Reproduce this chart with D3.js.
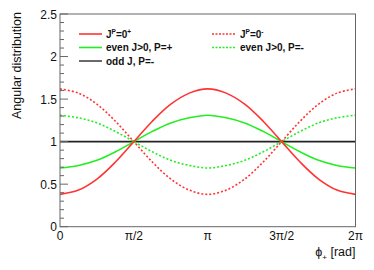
<!DOCTYPE html>
<html><head><meta charset="utf-8">
<script src="https://cdn.jsdelivr.net/npm/d3@7"></script>
<style>body{margin:0;background:#fff}svg{display:block}text{font-family:"Liberation Sans",Arial,sans-serif}</style>
</head><body>
<script>
// phi samples at k*pi/8, k = 0..16
const phiSteps = d3.range(17);
const redSolid  = [0.38,0.43,0.56,0.76,1.00,1.24,1.44,1.57,1.62,1.57,1.44,1.24,1.00,0.76,0.56,0.43,0.38];
const redDashed = [1.62,1.57,1.44,1.24,1.00,0.76,0.56,0.43,0.38,0.43,0.56,0.76,1.00,1.24,1.44,1.57,1.62];
const greenSolid  = [0.69,0.72,0.78,0.88,1.00,1.12,1.22,1.28,1.31,1.28,1.22,1.12,1.00,0.88,0.78,0.72,0.69];
const greenDashed = [1.31,1.28,1.22,1.12,1.00,0.88,0.78,0.72,0.69,0.72,0.78,0.88,1.00,1.12,1.22,1.28,1.31];
const blackSolid  = [1,1,1,1,1,1,1,1,1,1,1,1,1,1,1,1,1];
const xTickLabels = ["0","π/2","π","3π/2","2π"];
const yTicks = [0,0.5,1,1.5,2,2.5];

const W=374,H=270, L=60, R=355.5, T=14, B=226.7;
const svg=d3.select("body").append("svg").attr("width",W).attr("height",H);
const x=d3.scaleLinear().domain([0,2*Math.PI]).range([L,R]);
const y=d3.scaleLinear().domain([0,2.5]).range([B,T]);

const series=[
 {v:blackSolid,c:"#222",d:null},
 {v:greenDashed,c:"#22ee22",d:"2,2"},
 {v:redDashed,c:"#ff3333",d:"2,2"},
 {v:greenSolid,c:"#22ee22",d:null},
 {v:redSolid,c:"#ff3333",d:null}
];
const line=d3.line().x((d,i)=>x(phiSteps[i]*Math.PI/8)).y(d=>y(d)).curve(d3.curveCatmullRom);
svg.selectAll("path.s").data(series).enter().append("path").attr("class","s")
 .attr("d",d=>line(d.v)).attr("fill","none").attr("stroke",d=>d.c)
 .attr("stroke-width",1.6).attr("stroke-dasharray",d=>d.d);

// frame
svg.append("rect").attr("x",L).attr("y",T).attr("width",R-L).attr("height",B-T)
 .attr("fill","none").attr("stroke","#666").attr("stroke-width",1);

// y axis ticks (inside)
const yMinor=d3.range(0,2.5001,0.1);
svg.selectAll("line.ym").data(yMinor).enter().append("line")
 .attr("x1",L).attr("x2",d=>Math.abs(d*2-Math.round(d*2))<1e-6?L+8:L+4)
 .attr("y1",d=>y(d)).attr("y2",d=>y(d)).attr("stroke","#666").attr("stroke-width",1);
svg.selectAll("text.yl").data(yTicks).enter().append("text")
 .attr("x",L-3).attr("y",d=>y(d)+4.5).attr("text-anchor","end").attr("font-size",12).attr("fill","#111")
 .text(d=>d);
// x tick labels
svg.selectAll("text.xl").data(xTickLabels).enter().append("text")
 .attr("x",(d,i)=>x(i*Math.PI/2)).attr("y",B+13).attr("text-anchor","middle").attr("font-size",12).attr("fill","#111")
 .text(d=>d);

// titles
svg.append("text").attr("transform",`translate(21,${T-2}) rotate(-90)`).attr("text-anchor","end")
 .attr("font-size",12.5).attr("fill","#111").text("Angular distribution");
const xt=svg.append("text").attr("x",R).attr("y",256).attr("text-anchor","end").attr("font-size",12.5).attr("fill","#111");
xt.append("tspan").text("ϕ");
xt.append("tspan").attr("font-size",8).attr("dy",4).text("+");
xt.append("tspan").attr("dy",-4).text(" [rad]");

// legend
const leg=[
 {x1:79,x2:102,tx:106,y:34,c:"#ff3333",d:null,t:[["J",0],["P",-1],["=0",0],["+",-1]]},
 {x1:79,x2:102,tx:106,y:47.5,c:"#22ee22",d:null,t:[["even J>0, P=+",0]]},
 {x1:79,x2:102,tx:106,y:61,c:"#444",d:null,t:[["odd J, P=-",0]]},
 {x1:212,x2:235,tx:240,y:34,c:"#ff3333",d:"2,1.5",t:[["J",0],["P",-1],["=0",0],["-",-1]]},
 {x1:212,x2:235,tx:240,y:47.5,c:"#22ee22",d:"2,1.5",t:[["even J>0, P=-",0]]}
];
leg.forEach(l=>{
 svg.append("line").attr("x1",l.x1).attr("x2",l.x2).attr("y1",l.y).attr("y2",l.y)
  .attr("stroke",l.c).attr("stroke-width",1.6).attr("stroke-dasharray",l.d);
 const t=svg.append("text").attr("x",l.tx).attr("y",l.y+3.5).attr("font-size",10).attr("font-weight","bold").attr("fill","#111");
 let prev=0;
 l.t.forEach(([s,sup])=>{
   const dy=sup?-4:(prev?4:0);
   t.append("tspan").attr("dy",dy).attr("font-size",sup?6.5:10).text(s);
   prev=sup;
 });
});
</script>
</body></html>
